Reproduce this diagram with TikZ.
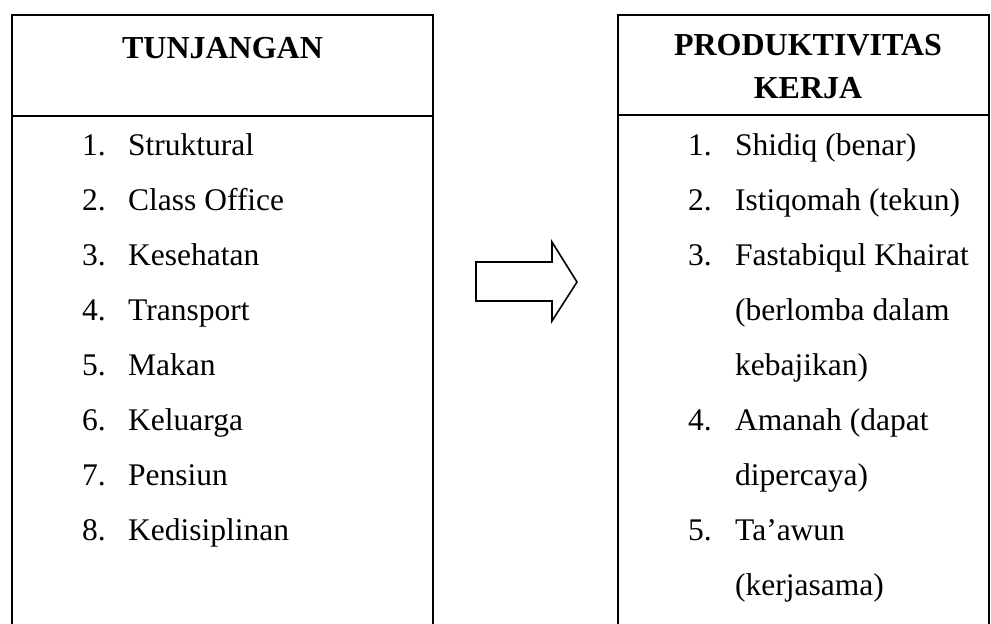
\documentclass[tikz,border=0pt]{standalone}
\usepackage{fontspec}
\setmainfont{Liberation Serif}
\begin{document}
\begin{tikzpicture}[x=1pt,y=-1pt,
  frame/.style={draw=black,line width=1.8pt},
  head/.style={inner sep=0pt,anchor=base,font=\fontsize{32}{38}\selectfont\bfseries},
  num/.style={inner sep=0pt,anchor=base west,font=\fontsize{31.5}{38}\selectfont},
  item/.style={inner sep=0pt,anchor=base west,font=\fontsize{31.5}{38}\selectfont},
  blockarrow/.style={draw=black,line width=1.6pt,line join=miter,fill=white}]
\useasboundingbox (0,0) rectangle (991,624);
\clip (0,0) rectangle (991,624);
% boxes
\draw[frame] (12,15) rectangle (433,660);
\draw[frame] (12,116) -- (433,116);
\draw[frame] (618,15) rectangle (989,660);
\draw[frame] (618,115) -- (989,115);
% headers
\node[head] (hl) at (222.5,58) {TUNJANGAN};
\node[head] (hr1) at (808,55) {PRODUKTIVITAS};
\node[head] (hr2) at (808,98) {KERJA};
% left list
\foreach \i/\t [count=\k from 0] in {1/Struktural,2/Class Office,3/Kesehatan,4/Transport,5/Makan,6/Keluarga,7/Pensiun,8/Kedisiplinan}{
  \node[num] (ln\i) at (82,155+55*\k) {\i.};
  \node[item] (lt\i) at (128,155+55*\k) {\t};
}
% right list
\node[num] (rn1) at (688,155) {1.};
\node[item] (rt1) at (735,155) {Shidiq (benar)};
\node[num] (rn2) at (688,210) {2.};
\node[item] (rt2) at (735,210) {Istiqomah (tekun)};
\node[num] (rn3) at (688,265) {3.};
\node[item] (rt3) at (735,265) {Fastabiqul Khairat};
\node[item] (rt3b) at (735,320) {(berlomba dalam};
\node[item] (rt3c) at (735,375) {kebajikan)};
\node[num] (rn4) at (688,430) {4.};
\node[item] (rt4) at (735,430) {Amanah (dapat};
\node[item] (rt4b) at (735,485) {dipercaya)};
\node[num] (rn5) at (688,540) {5.};
\node[item] (rt5) at (735,540) {Ta’awun};
\node[item] (rt5b) at (735,595) {(kerjasama)};
% block arrow
\draw[blockarrow] (476,262) -- (552,262) -- (552,242) -- (577,282) -- (552,321) -- (552,301) -- (476,301) -- cycle;
\end{tikzpicture}
\end{document}
